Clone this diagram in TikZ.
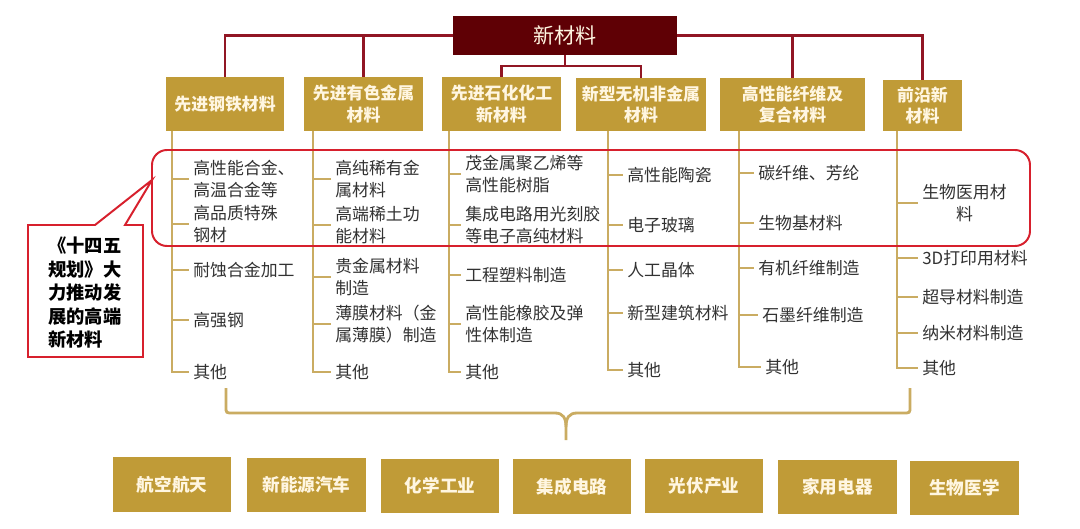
\documentclass[tikz,border=0pt]{standalone}
\usepackage{fontspec}
\setmainfont{Noto Sans CJK SC}
\usetikzlibrary{calc}
\definecolor{boxgold}{RGB}{192,155,55}
\definecolor{goldline}{RGB}{202,172,98}
\definecolor{rootred}{RGB}{95,0,5}
\definecolor{wirered}{RGB}{145,22,36}
\definecolor{hlred}{RGB}{215,32,45}
\definecolor{cream}{RGB}{255,246,225}
\definecolor{leafink}{RGB}{50,50,50}

\begin{document}
\begin{tikzpicture}[x=0.025cm,y=-0.025cm,
  root/.style={rectangle,fill=rootred,text=cream,minimum width=5.6cm,
               minimum height=0.975cm,font=\fontsize{15}{18}\selectfont},
  cat/.style={rectangle,fill=boxgold,text=cream,align=center,minimum height=1.33cm,
              font=\fontsize{12}{15}\selectfont\bfseries},
  leaf/.style={anchor=west,inner xsep=0.1cm,inner ysep=0pt,align=left,text=leafink,
               font=\fontsize{12}{15.6}\selectfont},
  sector/.style={rectangle,fill=boxgold,text=cream,minimum width=2.95cm,minimum height=1.37cm,
                 font=\fontsize{12.5}{15}\selectfont\bfseries},
  wire/.style={draw=wirered,line width=1.7pt},
  trunk/.style={draw=goldline,line width=1.6pt},
  hl/.style={draw=hlred,line width=1.4pt,rounded corners=0.375cm},
  note/.style={draw=hlred,line width=1.4pt,fill=white,line join=miter}
]
\fill[white] (0,0) rectangle (1080,528);
\useasboundingbox (0,0) rectangle (1080,528);
% root node
\node[root] (root) at (565,35.5) {新材料};
% category nodes
\node[cat,minimum width=2.95cm] (c1) at (225,104) {先进钢铁材料};
\node[cat,minimum width=2.975cm] (c2) at (363.5,104) {先进有色金属\\材料};
\node[cat,minimum width=2.975cm] (c3) at (501.5,104) {先进石化化工\\新材料};
\node[cat,minimum width=3.25cm] (c4) at (641,104.5) {新型无机非金属\\材料};
\node[cat,minimum width=3.625cm] (c5) at (792.5,104.5) {高性能纤维及\\复合材料};
\node[cat,minimum width=1.975cm,minimum height=1.275cm] (c6) at (922.5,105.5) {前沿新\\材料};
% red connectors
\draw[wire] (root.west) -| (c1.north);
\draw[wire] (root.west) -| (c2.north);
\draw[wire] (root.east) -| (c5.north);
\draw[wire] (root.east) -| (c6.north);
\coordinate (jn) at (565,66);
\draw[wire] (root.south) -- (jn) -| (c3.north);
\draw[wire] (jn) -| (c4.north);
% trunk tops
\coordinate (t1) at (172,131);
\coordinate (t2) at (313,131);
\coordinate (t3) at (449,131);
\coordinate (t4) at (608,131);
\coordinate (t5) at (739,131);
\coordinate (t6) at (897,131);
% steel
\node[leaf] (l11) at (189,179) {高性能合金、\\高温合金等};
\node[leaf] (l12) at (189,224) {高品质特殊\\钢材};
\node[leaf] (l13) at (189,270) {耐蚀合金加工};
\node[leaf] (l14) at (189,320) {高强钢};
\node[leaf] (l15) at (189,372) {其他};
% nonferrous
\node[leaf] (l21) at (331,179) {高纯稀有金\\属材料};
\node[leaf] (l22) at (331,225) {高端稀土功\\能材料};
\node[leaf] (l23) at (331,277) {贵金属材料\\制造};
\node[leaf] (l24) at (331,324) {薄膜材料（金\\属薄膜）制造};
\node[leaf] (l25) at (331,372) {其他};
% petrochemical
\node[leaf] (l31) at (461,174) {茂金属聚乙烯等\\高性能树脂};
\node[leaf] (l32) at (461,225) {集成电路用光刻胶\\等电子高纯材料};
\node[leaf] (l33) at (461,275) {工程塑料制造};
\node[leaf] (l34) at (461,324) {高性能橡胶及弹\\性体制造};
\node[leaf] (l35) at (461,372) {其他};
% inorganic
\node[leaf] (l41) at (623,175) {高性能陶瓷};
\node[leaf] (l42) at (623,225) {电子玻璃};
\node[leaf] (l43) at (623,270) {人工晶体};
\node[leaf] (l44) at (623,313) {新型建筑材料};
\node[leaf] (l45) at (623,370) {其他};
% fibre
\node[leaf] (l51) at (754,173) {碳纤维、芳纶};
\node[leaf] (l52) at (754,223) {生物基材料};
\node[leaf] (l53) at (754,268) {有机纤维制造};
\node[leaf] (l54) at (758,315) {石墨纤维制造};
\node[leaf] (l55) at (761,367) {其他};
% frontier
\node[leaf,align=center] (l61) at (918,203) {生物医用材\\料};
\node[leaf] (l62) at (918,258) {3D打印用材料};
\node[leaf] (l63) at (918,297) {超导材料制造};
\node[leaf] (l64) at (918,333) {纳米材料制造};
\node[leaf] (l65) at (918,368) {其他};
% trunks and ticks
\foreach \c in {1,...,6}{
  \draw[trunk] (t\c) |- (l\c5.west);
  \foreach \i in {1,...,4}
    \draw[trunk] (t\c |- l\c\i.west) -- (l\c\i.west);
}
% highlight frame
\draw[hl] (152,150) rectangle (1030,246);
\coordinate (tip) at (152,180);
% callout
\draw[note] (28,225) -- (95,225) -- (tip) -- (125,225) -- (143,225)
  -- (143,357) -- (28,357) -- cycle;
\node[align=left,font=\fontsize{13}{16.7}\selectfont\bfseries,text=black] (memo) at (85,293)
  {《十四五\\规划》大\\力推动发\\展的高端\\新材料};
% brace
\coordinate (bt) at (566,440);
\draw[trunk,line width=2pt] (226,388) -- (226,407) .. controls (226,413) .. (233,413)
  -- (555,413) .. controls (563,413) and (566,418) .. (566,427) -- (bt);
\draw[trunk,line width=2pt] (566,427) .. controls (566,418) and (569,413) .. (577,413)
  -- (903,413) .. controls (910,413) .. (910,407) -- (910,388);
% sector nodes
\node[sector] (b1) at (172,484.5) {航空航天};
\node[sector] (b2) at (306.5,485) {新能源汽车};
\node[sector] (b3) at (440,486) {化学工业};
\node[sector] (b4) at (572,486.5) {集成电路};
\node[sector] (b5) at (704,486) {光伏产业};
\node[sector] (b6) at (837.5,487) {家用电器};
\node[sector,minimum width=2.725cm] (b7) at (964.5,488) {生物医学};
\end{tikzpicture}
\end{document}
